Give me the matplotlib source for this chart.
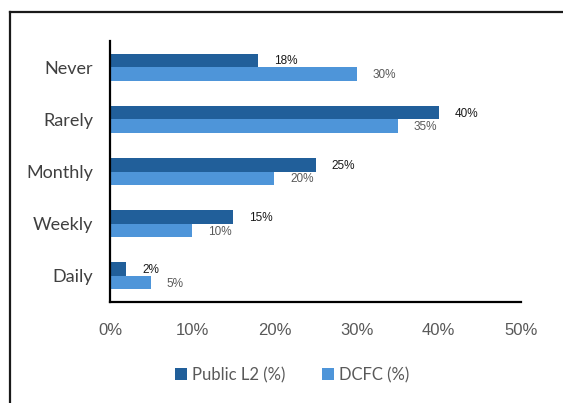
import matplotlib.pyplot as plt
from matplotlib.lines import Line2D
import numpy as np

categories = ['Daily', 'Weekly', 'Monthly', 'Rarely', 'Never']
public_l2 = [2, 15, 25, 40, 18]
dcfc = [5, 10, 20, 35, 30]
xticks = [0, 10, 20, 30, 40, 50]

dark = '#215F9A'
light = '#4E95D9'
arial = ['Liberation Sans', 'DejaVu Sans']

fig = plt.figure(figsize=(5.63, 4.03), dpi=100)
ax = fig.add_axes([110 / 563, 101 / 403, 411 / 563, 261 / 403])

y = np.arange(len(categories))
h = 0.26
ax.barh(y + h / 2, public_l2, height=h, color=dark, label='Public L2 (%)')
ax.barh(y - h / 2, dcfc, height=h, color=light, label='DCFC (%)')

for yi, v in zip(y, public_l2):
    ax.text(v + 1.9, yi + h / 2 - 0.02, f'{v}%', va='center', ha='left',
            fontsize=8.5, color='#1a1a1a', family=arial)
for yi, v in zip(y, dcfc):
    ax.text(v + 1.9, yi - h / 2 - 0.02, f'{v}%', va='center', ha='left',
            fontsize=8.5, color='#595959', family=arial)

ax.set_xlim(0, 50)
ax.set_ylim(-0.5, 4.5)
ax.set_yticks(y)
ax.set_yticklabels(categories, fontsize=13, color='#404040', family='Lato')
ax.set_xticks(xticks)
ax.set_xticklabels([f'{t}%' for t in xticks], fontsize=12, color='#595959',
                   family=arial)
ax.tick_params(axis='both', length=0)
ax.tick_params(axis='y', pad=12)
ax.tick_params(axis='x', pad=15)

for s in ['top', 'right']:
    ax.spines[s].set_visible(False)
for s in ['left', 'bottom']:
    ax.spines[s].set_color('black')
    ax.spines[s].set_linewidth(1.6)

fig.legend(loc='center', bbox_to_anchor=(292 / 563, 1 - 375 / 403), ncol=2,
           frameon=False, handlelength=0.7, handleheight=0.7, handletextpad=0.3,
           columnspacing=2.2, prop={'family': 'Lato', 'size': 12},
           labelcolor='#595959')

# outer chart border (top and left edges visible)
fig.add_artist(Line2D([10 / 563, 1], [1 - 12 / 403, 1 - 12 / 403],
                      transform=fig.transFigure, color='#1a1a1a', lw=1.6))
fig.add_artist(Line2D([10 / 563, 10 / 563], [0, 1 - 12 / 403],
                      transform=fig.transFigure, color='#1a1a1a', lw=1.6))

fig.savefig('out.png', dpi=100)
